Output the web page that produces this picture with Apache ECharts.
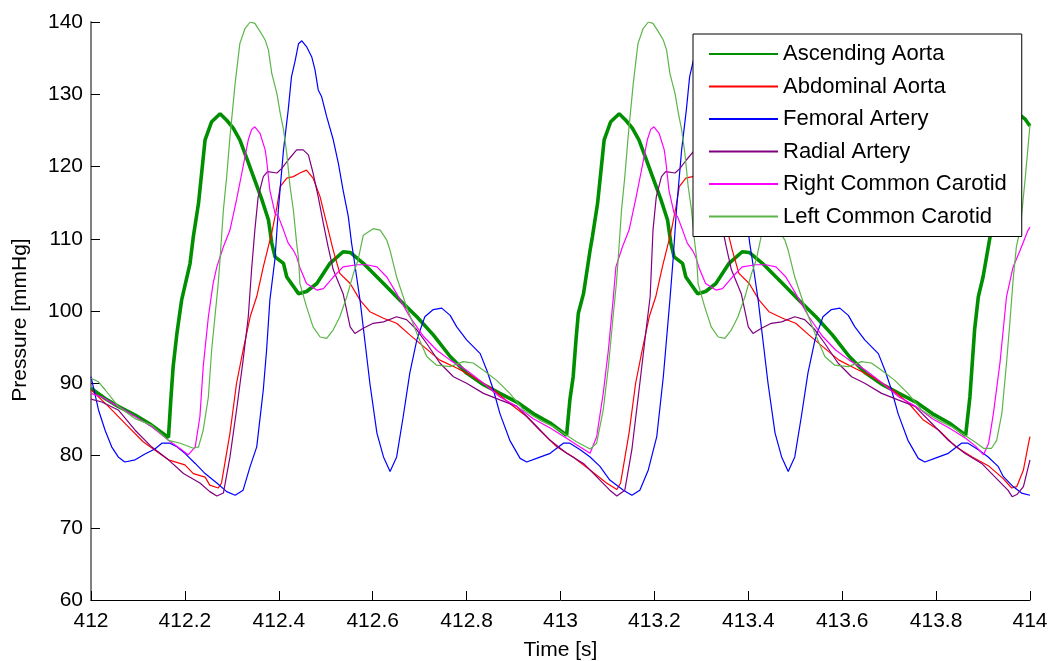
<!DOCTYPE html>
<html>
<head>
<meta charset="utf-8">
<title>Arterial pressure waveforms</title>
<script src="https://cdn.jsdelivr.net/npm/echarts@6/dist/echarts.min.js"></script>
<style>
  html, body { margin: 0; padding: 0; background: #fff; }
  #chart { width: 1054px; height: 661px; }
</style>
</head>
<body>
<div id="chart"></div>
<script>
// Pressure traces, [time in s, pressure in mmHg]
const ascendingAorta = [
  [412.000,89.3],[412.030,87.9],[412.058,86.8],[412.094,85.6],[412.129,84.2],[412.165,82.5],[412.168,82.4],[412.170,87.7],[412.175,92.3],[412.183,96.9],[412.188,99.2],[412.193,101.5],[412.211,106.6],[412.218,110.3],[412.229,114.9],[412.243,123.7],[412.257,126.2],[412.275,127.3],[412.289,126.4],[412.303,125.3],[412.317,123.7],[412.332,121.1],[412.346,118.6],[412.364,115.4],[412.378,112.6],[412.385,109.4],[412.392,107.5],[412.410,106.6],[412.417,104.7],[412.442,102.4],[412.459,102.7],[412.481,103.8],[412.509,106.6],[412.537,108.2],[412.552,108.1],[412.580,106.6],[412.623,103.8],[412.658,101.5],[412.694,99.2],[412.729,96.7],[412.765,93.7],[412.800,91.4],[412.836,89.8],[412.871,88.6],[412.907,87.4],[412.942,85.8],[412.978,84.5],[413.013,82.8],[413.017,82.6],
  [413.020,87.7],[413.027,90.9],[413.033,96.0],[413.038,99.7],[413.049,102.4],[413.063,108.4],[413.068,110.3],[413.079,114.9],[413.093,123.7],[413.107,126.2],[413.125,127.3],[413.139,126.4],[413.153,125.3],[413.167,123.7],[413.182,121.1],[413.196,118.6],[413.214,115.4],[413.228,112.6],[413.235,109.4],[413.242,107.5],[413.260,106.6],[413.267,104.7],[413.292,102.4],[413.309,102.7],[413.331,103.8],[413.359,106.6],[413.387,108.2],[413.402,108.1],[413.430,106.6],[413.473,103.8],[413.508,101.5],[413.544,99.2],[413.579,96.7],[413.615,93.7],[413.650,91.4],[413.686,89.8],[413.721,88.6],[413.757,87.4],[413.792,85.8],[413.828,84.5],[413.863,82.8],[413.867,82.6],
  [413.872,88.1],[413.882,97.4],[413.890,102.0],[413.900,104.7],[413.915,110.3],[413.929,114.9],[413.943,123.7],[413.957,126.2],[413.975,127.3],[413.989,126.6],[414.000,125.6]
];

const abdominalAorta = [
  [412.000,89.1],[412.037,86.8],[412.076,84.2],[412.111,81.9],[412.165,79.4],[412.200,78.7],[412.218,77.5],[412.243,77.0],[412.253,75.9],[412.271,75.5],[412.278,76.2],[412.296,83.1],[412.310,90.0],[412.324,94.6],[412.339,99.2],[412.353,102.0],[412.367,106.1],[412.385,110.8],[412.396,114.4],[412.403,117.2],[412.417,118.4],[412.431,118.6],[412.445,119.1],[412.459,119.5],[412.473,118.4],[412.488,115.8],[412.502,112.1],[412.516,108.4],[412.530,105.2],[412.552,103.8],[412.573,101.5],[412.594,99.9],[412.623,99.0],[412.651,98.3],[412.679,96.7],[412.708,95.1],[412.743,93.2],[412.779,92.1],[412.814,90.9],[412.857,89.1],[412.892,87.2],[412.928,85.4],[412.956,83.5],[412.992,81.2],[413.027,79.8],[413.063,78.0],[413.098,76.2],[413.120,75.3],
  [413.128,76.2],[413.146,83.1],[413.160,90.0],[413.174,94.6],[413.189,99.2],[413.203,102.0],[413.217,106.1],[413.235,110.8],[413.246,114.4],[413.253,117.2],[413.267,118.4],[413.281,118.6],[413.295,119.1],[413.309,119.5],[413.323,118.4],[413.338,115.8],[413.352,112.1],[413.366,108.4],[413.380,105.2],[413.402,103.8],[413.423,101.5],[413.444,99.9],[413.473,99.0],[413.501,98.3],[413.529,96.7],[413.558,95.1],[413.593,93.2],[413.629,92.0],[413.664,90.9],[413.707,89.1],[413.742,87.2],[413.773,84.9],[413.806,83.5],[413.842,81.2],[413.877,79.8],[413.913,78.5],[413.943,76.8],[413.961,75.5],[413.972,75.7],[413.986,78.0],[413.997,81.7],[414.000,82.6]
];

const femoralArtery = [
  [412.000,90.9],[412.005,89.5],[412.016,86.3],[412.030,83.5],[412.044,81.2],[412.058,79.8],[412.072,79.1],[412.094,79.4],[412.115,80.2],[412.136,80.9],[412.151,81.7],[412.168,81.7],[412.183,81.2],[412.200,80.3],[412.222,78.9],[412.243,77.5],[412.268,76.2],[412.289,75.0],[412.307,74.5],[412.324,75.2],[412.339,78.5],[412.353,81.2],[412.367,89.1],[412.374,94.6],[412.381,101.5],[412.392,107.3],[412.399,114.0],[412.410,122.3],[412.420,127.8],[412.427,132.4],[412.435,134.7],[412.442,137.0],[412.449,137.4],[412.459,136.6],[412.470,135.2],[412.477,133.4],[412.484,130.6],[412.491,129.7],[412.502,126.9],[412.516,123.7],[412.527,120.4],[412.537,116.7],[412.548,113.1],[412.555,109.4],[412.560,107.3],[412.573,101.5],[412.584,95.5],[412.594,90.0],[412.609,83.1],[412.623,79.8],[412.637,77.8],[412.651,79.8],[412.665,85.4],[412.679,91.4],[412.694,96.0],[412.711,99.2],[412.729,100.2],[412.747,100.4],[412.765,99.4],[412.779,97.8],[412.800,96.0],[412.829,94.1],[412.843,91.8],[412.857,89.1],[412.871,85.8],[412.892,82.1],[412.914,79.6],[412.928,79.1],[412.949,79.6],[412.978,80.3],[413.006,81.7],[413.020,81.7],[413.042,80.8],[413.063,79.8],[413.084,78.5],[413.105,76.6],[413.134,75.2],[413.152,74.5],[413.169,75.2],[413.187,78.0],[413.205,82.6],[413.219,90.9],[413.233,101.5],
  [413.240,107.3],[413.247,114.0],[413.258,122.3],[413.268,127.8],[413.275,132.4],[413.283,134.7],[413.290,137.0],[413.297,137.4],[413.307,136.6],[413.318,135.2],[413.325,133.4],[413.332,130.6],[413.339,129.7],[413.350,126.9],[413.364,123.7],[413.375,120.4],[413.385,116.7],[413.396,113.1],[413.403,109.4],[413.408,107.3],[413.421,101.5],[413.432,95.5],[413.442,90.0],[413.457,83.1],[413.471,79.8],[413.485,77.8],[413.499,79.8],[413.513,85.4],[413.527,91.4],[413.542,96.0],[413.559,99.2],[413.577,100.2],[413.595,100.4],[413.613,99.4],[413.627,97.8],[413.648,96.0],[413.677,94.1],[413.691,91.8],[413.705,89.1],[413.719,85.8],[413.740,82.1],[413.762,79.6],[413.776,79.1],[413.797,79.6],[413.826,80.3],[413.854,81.7],[413.868,81.7],[413.890,80.8],[413.911,79.8],[413.932,78.5],[413.943,77.1],[413.964,75.7],[413.982,74.8],[414.000,74.5]
];

const radialArtery = [
  [412.000,87.8],[412.023,87.4],[412.058,86.3],[412.094,83.5],[412.129,81.2],[412.165,79.4],[412.197,77.5],[412.232,76.2],[412.253,75.0],[412.268,74.4],[412.282,74.8],[412.296,79.8],[412.310,86.3],[412.324,93.2],[412.335,99.2],[412.342,105.7],[412.349,111.2],[412.356,115.8],[412.367,118.6],[412.376,119.3],[412.396,119.1],[412.406,119.7],[412.420,120.9],[412.438,122.3],[412.452,122.3],[412.463,121.6],[412.473,119.1],[412.484,115.8],[412.495,112.1],[412.505,108.9],[412.516,105.7],[412.537,102.4],[412.552,97.8],[412.562,96.9],[412.580,97.6],[412.601,98.3],[412.623,98.5],[412.651,99.2],[412.672,98.8],[412.694,97.4],[412.715,95.5],[412.743,92.8],[412.772,90.9],[412.800,90.0],[412.836,88.6],[412.871,87.7],[412.907,86.8],[412.942,84.5],[412.978,82.1],[413.013,80.3],[413.049,78.9],[413.084,76.6],[413.105,75.2],[413.120,74.4],[413.137,75.2],[413.152,80.8],[413.169,90.0],[413.184,98.3],[413.191,102.0],
  [413.197,111.2],[413.204,115.8],[413.215,118.6],[413.224,119.3],[413.244,119.1],[413.254,119.7],[413.268,120.9],[413.286,122.3],[413.300,122.3],[413.311,121.6],[413.321,119.1],[413.332,115.8],[413.343,112.1],[413.353,108.9],[413.364,105.7],[413.385,102.4],[413.400,97.8],[413.410,96.9],[413.428,97.6],[413.449,98.3],[413.471,98.5],[413.499,99.2],[413.520,98.8],[413.542,97.4],[413.563,95.5],[413.591,92.8],[413.620,90.9],[413.648,90.0],[413.684,88.6],[413.719,87.7],[413.755,86.8],[413.790,84.5],[413.826,82.1],[413.861,80.3],[413.897,78.9],[413.932,76.6],[413.953,75.2],[413.962,74.3],[413.972,74.6],[413.986,75.7],[414.000,79.4]
];

const rightCommonCarotid = [
  [412.000,88.6],[412.023,88.1],[412.058,86.8],[412.094,85.4],[412.129,84.0],[412.165,82.1],[412.193,80.8],[412.207,80.1],[412.222,81.2],[412.232,85.4],[412.239,92.3],[412.250,99.2],[412.260,103.8],[412.268,106.1],[412.282,108.9],[412.296,111.2],[412.310,115.4],[412.324,120.0],[412.335,123.7],[412.342,125.1],[412.349,125.5],[412.360,124.6],[412.371,122.3],[412.374,120.9],[412.381,116.7],[412.392,113.5],[412.399,113.1],[412.410,111.2],[412.420,109.4],[412.431,108.4],[412.438,107.5],[412.445,106.0],[412.459,103.8],[412.481,102.9],[412.495,103.1],[412.516,104.7],[412.537,106.1],[412.566,106.4],[412.587,106.4],[412.609,106.1],[412.630,104.7],[412.651,102.4],[412.679,99.2],[412.708,96.5],[412.736,94.6],[412.765,93.2],[412.800,91.8],[412.836,90.0],[412.871,88.1],[412.907,86.8],[412.942,85.1],[412.978,83.8],[413.013,82.4],[413.034,81.5],[413.063,80.3],[413.077,82.6],[413.091,88.6],[413.102,94.6],[413.112,101.5],
  [413.118,106.1],[413.132,108.9],[413.146,111.2],[413.160,115.4],[413.174,120.0],[413.185,123.7],[413.192,125.1],[413.199,125.5],[413.210,124.6],[413.221,122.3],[413.224,120.9],[413.231,116.7],[413.242,113.5],[413.249,113.1],[413.260,111.2],[413.270,109.4],[413.281,108.4],[413.288,107.5],[413.295,106.0],[413.309,103.8],[413.331,102.9],[413.345,103.1],[413.366,104.7],[413.387,106.1],[413.416,106.4],[413.437,106.4],[413.459,106.1],[413.480,104.7],[413.501,102.4],[413.529,99.2],[413.558,96.5],[413.586,94.6],[413.615,93.2],[413.650,91.8],[413.686,90.0],[413.721,88.1],[413.757,86.8],[413.792,85.1],[413.828,83.8],[413.863,82.4],[413.884,81.3],[413.901,80.1],[413.912,81.7],[413.922,85.8],[413.936,92.8],[413.950,102.0],[413.964,106.1],[413.979,108.4],[413.996,111.2],[414.000,111.6]
];

const leftCommonCarotid = [
  [412.000,90.7],[412.016,90.2],[412.030,89.1],[412.058,86.8],[412.094,85.1],[412.129,84.2],[412.165,82.1],[412.190,81.7],[412.218,81.0],[412.229,81.2],[412.239,83.5],[412.250,88.1],[412.257,94.6],[412.264,99.2],[412.271,103.8],[412.275,107.3],[412.282,114.0],[412.289,118.6],[412.296,124.1],[412.307,131.5],[412.317,137.0],[412.328,139.1],[412.339,140.0],[412.349,139.8],[412.360,138.7],[412.371,137.5],[412.378,136.1],[412.385,132.9],[412.396,130.1],[412.403,127.4],[412.410,125.1],[412.417,121.8],[412.424,117.2],[412.431,114.0],[412.438,109.4],[412.442,107.3],[412.445,103.8],[412.459,100.6],[412.473,97.8],[412.488,96.4],[412.502,96.2],[412.516,97.4],[412.530,99.2],[412.545,102.0],[412.559,105.2],[412.569,107.1],[412.580,110.5],[412.601,111.4],[412.616,111.2],[412.630,109.8],[412.637,108.4],[412.651,104.7],[412.672,100.6],[412.694,96.9],[412.715,93.7],[412.736,92.5],[412.765,92.3],[412.793,93.0],[412.814,92.8],[412.836,91.8],[412.864,90.4],[412.892,88.6],[412.921,86.3],[412.956,84.9],[412.985,84.0],[413.013,82.8],[413.034,81.9],[413.063,80.9],[413.077,81.7],[413.091,86.3],[413.102,92.3],[413.112,99.2],
  [413.119,103.8],[413.123,107.3],[413.130,114.0],[413.137,118.6],[413.144,124.1],[413.155,131.5],[413.165,137.0],[413.176,139.1],[413.187,140.0],[413.197,139.8],[413.208,138.7],[413.219,137.5],[413.226,136.1],[413.233,132.9],[413.244,130.1],[413.251,127.4],[413.258,125.1],[413.265,121.8],[413.272,117.2],[413.279,114.0],[413.286,109.4],[413.290,107.3],[413.293,103.8],[413.307,100.6],[413.321,97.8],[413.336,96.4],[413.350,96.2],[413.364,97.4],[413.378,99.2],[413.393,102.0],[413.407,105.2],[413.417,107.1],[413.428,110.5],[413.449,111.4],[413.464,111.2],[413.478,109.8],[413.485,108.4],[413.499,104.7],[413.520,100.6],[413.542,96.9],[413.563,93.7],[413.584,92.5],[413.613,92.3],[413.641,93.0],[413.662,92.8],[413.684,91.8],[413.712,90.4],[413.740,88.6],[413.769,86.3],[413.804,84.9],[413.833,84.0],[413.861,82.8],[413.882,81.9],[413.901,81.0],[413.918,81.0],[413.929,82.1],[413.940,85.8],[413.950,92.8],[413.957,98.3],[413.964,104.3],[413.971,108.9],[413.979,111.2],[413.990,118.5],[414.000,125.8]
];

// Axis ticks
const timeTicks = [412, 412.2, 412.4, 412.6, 412.8, 413, 413.2, 413.4, 413.6, 413.8, 414];
const pressureTicks = [60, 70, 80, 90, 100, 110, 120, 130, 140];

const FONT = '"Liberation Sans", Arial, Helvetica, sans-serif';

const traces = [
  { name: 'Ascending Aorta',      data: ascendingAorta,     color: '#008f00', width: 3.6 },
  { name: 'Abdominal Aorta',      data: abdominalAorta,     color: '#ff0000', width: 1.2 },
  { name: 'Femoral Artery',       data: femoralArtery,      color: '#0000ff', width: 1.2 },
  { name: 'Radial Artery',        data: radialArtery,       color: '#800080', width: 1.2 },
  { name: 'Right Common Carotid', data: rightCommonCarotid, color: '#ff00ff', width: 1.2 },
  { name: 'Left Common Carotid',  data: leftCommonCarotid,  color: '#5cb548', width: 1.2 }
];

function tickText(v) {
  return String(Math.round(v * 10) / 10);
}

const chart = echarts.init(document.getElementById('chart'), null, { renderer: 'canvas' });

chart.setOption({
  animation: false,
  backgroundColor: '#ffffff',
  grid: { left: 91, right: 24, top: 22, bottom: 61, containLabel: false, outerBoundsMode: 'none' },
  legend: {
    orient: 'vertical',
    left: 693,
    top: 34,
    padding: [9, 15, 9, 15],
    itemWidth: 69,
    itemHeight: 22,
    itemGap: 10.5,
    backgroundColor: '#ffffff',
    borderColor: '#000000',
    borderWidth: 1,
    borderRadius: 0,
    // legend keys show only the line sample, no marker
    itemStyle: { opacity: 0 },
    textStyle: { fontFamily: FONT, fontSize: 22, color: '#000' },
    data: traces.map(t => t.name)
  },
  xAxis: {
    type: 'value',
    min: timeTicks[0],
    max: timeTicks[timeTicks.length - 1],
    interval: 0.2,
    name: 'Time [s]',
    nameLocation: 'middle',
    nameGap: 40,
    nameTextStyle: { fontFamily: FONT, fontSize: 21, color: '#000' },
    axisLine: { show: true, onZero: false, lineStyle: { color: '#000', width: 1 } },
    axisTick: { show: true, inside: true, length: 9, lineStyle: { color: '#000', width: 1 } },
    axisLabel: { fontFamily: FONT, fontSize: 21, color: '#000', margin: 11, formatter: tickText, showMinLabel: true, showMaxLabel: true },
    splitLine: { show: false }
  },
  yAxis: {
    type: 'value',
    min: pressureTicks[0],
    max: pressureTicks[pressureTicks.length - 1],
    interval: 10,
    name: 'Pressure [mmHg]',
    nameLocation: 'middle',
    nameRotate: 90,
    nameGap: 60,
    nameTextStyle: { fontFamily: FONT, fontSize: 21, color: '#000', padding: [0, 18, 0, 0] },
    axisLine: { show: true, onZero: false, lineStyle: { color: '#808080', width: 2 } },
    axisTick: { show: true, inside: true, length: 9, lineStyle: { color: '#000', width: 1 } },
    axisLabel: { fontFamily: FONT, fontSize: 21, color: '#000', margin: 8 },
    splitLine: { show: false }
  },
  series: traces.map(t => ({
    name: t.name,
    type: 'line',
    data: t.data,
    symbol: 'none',
    showSymbol: false,
    smooth: false,
    clip: true,
    color: t.color,
    lineStyle: { color: t.color, width: t.width },
    emphasis: { disabled: true }
  }))
});
</script>
</body>
</html>
